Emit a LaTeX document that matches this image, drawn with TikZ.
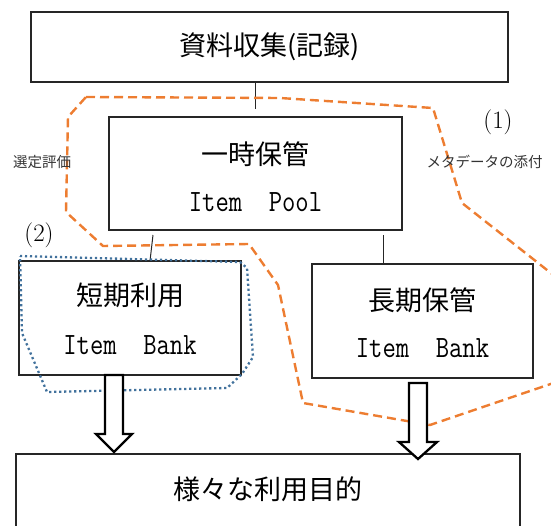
\documentclass[tikz,border=0pt]{standalone}
\usepackage{fontspec}
\newfontfamily\jp{Noto Sans CJK JP}
\newfontfamily\narrowmono{Latin Modern Mono}[FakeStretch=0.835]
\definecolor{orng}{RGB}{237,125,49}
\definecolor{bluedot}{RGB}{65,113,156}
\begin{document}
\begin{tikzpicture}[x=1bp,y=-1bp,
  box/.style={draw=black!85, line width=1.1bp, inner sep=0pt},
  jtxt/.style={font=\jp\fontsize{27bp}{32bp}\selectfont, inner sep=0pt},
  etxt/.style={font=\narrowmono\fontsize{31bp}{36bp}\selectfont, inner sep=0pt},
  smalltxt/.style={font=\jp\fontsize{14.5bp}{17bp}\selectfont, inner sep=0pt, text=black!80},
  numtxt/.style={font=\fontsize{25bp}{30bp}\selectfont, inner sep=0pt},
  conn/.style={draw=black!85, line width=1bp},
  orangeline/.style={draw=orng, line width=2.4bp, dash pattern=on 9bp off 5bp, line join=round},
  blueline/.style={draw=bluedot, line width=2.3bp, dash pattern=on 2.2bp off 2.8bp},
  blockarrow/.style={draw=black, fill=white, line width=2.3bp, line join=miter}
]
\useasboundingbox (0,0) rectangle (551,526);
\clip (0,0) rectangle (551,526);

% boxes
\node[box, minimum width=477bp, minimum height=70bp] (collect) at (269.5,47) {};
\node[jtxt] (collectT) at (269.5,47) {資料収集(記録)};

\node[box, minimum width=293bp, minimum height=113bp] (pool) at (255.5,173.5) {};
\node[jtxt] (poolA) at (255.5,154) {一時保管};
\node[etxt] (poolB) at (255.5,202) {Item~~Pool};

\node[box, minimum width=222bp, minimum height=114bp] (short) at (130,318) {};
\node[jtxt] (shortA) at (130,295) {短期利用};
\node[etxt] (shortB) at (130,345) {Item~~Bank};

\node[box, minimum width=221bp, minimum height=114bp] (long) at (422.5,321) {};
\node[jtxt] (longA) at (422.5,300) {長期保管};
\node[etxt] (longB) at (422.5,348) {Item~~Bank};

\node[box, minimum width=504bp, minimum height=100bp] (use) at (268,504) {};
\node[jtxt] (useT) at (268,489) {様々な利用目的};

% connectors
\coordinate (c1) at (255,109);
\draw[conn] (collect.south -| c1) -- (c1);
\coordinate (c2a) at (153,235);
\coordinate (c2b) at (150,261);
\draw[conn] (c2a) -- (c2b);
\coordinate (c3a) at (383,235);
\draw[conn] (c3a) -- (long.north -| c3a);

% orange dashed region
\draw[orangeline] (86,97) -- (280,98) -- (433,108) -- (462,203) -- (580,296)
  -- (580,374) -- (430,425) -- (303,403) -- (278,285) -- (249,244)
  -- (103,246) -- (66,212) -- (68,117) -- cycle;

% blue dotted region
\draw[blueline] (20,256) -- (240,262) -- (247,268) -- (253,357) -- (242,374)
  -- (227,388) -- (47,392) -- (22,333) -- cycle;

% labels
\node[smalltxt] (sel) at (42,162) {選定評価};
\node[smalltxt] (meta) at (484.5,162) {メタデータの添付};
\node[numtxt] (n1) at (498,122) {(1)};
\node[numtxt] (n2) at (39,235) {(2)};

% block arrows
\draw[blockarrow] (105,375) -- (105,434) -- (96,434) -- (114,452) -- (132,434)
  -- (123,434) -- (123,375) -- cycle;
\draw[blockarrow] (409,383) -- (409,442) -- (399,442) -- (418,459) -- (437,442)
  -- (427,442) -- (427,383) -- cycle;
\end{tikzpicture}
\end{document}
